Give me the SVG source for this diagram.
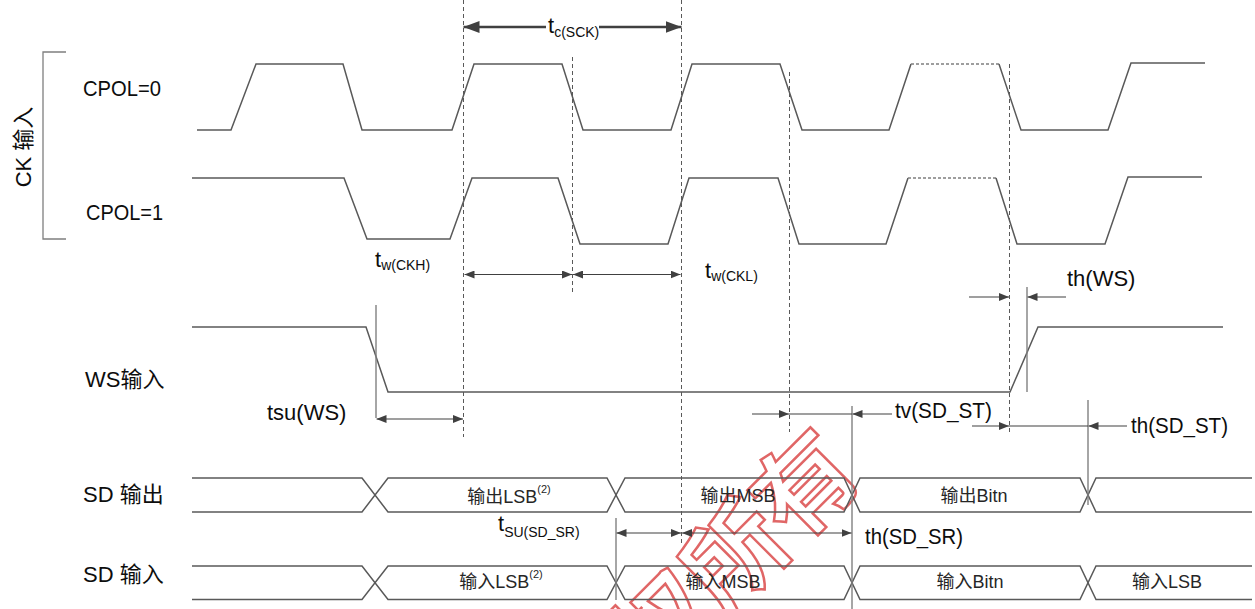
<svg xmlns="http://www.w3.org/2000/svg" width="1255" height="609" viewBox="0 0 1255 609">
<style>
  .wave{fill:none;stroke:#595959;stroke-width:1.5;stroke-linejoin:miter}
  .dot{fill:none;stroke:#7f7f7f;stroke-width:1.3;stroke-dasharray:3 2}
  .dash{fill:none;stroke:#595959;stroke-width:1;stroke-dasharray:4 3}
  .solid{fill:none;stroke:#808080;stroke-width:1.4}
  .arr{fill:none;stroke:#404040;stroke-width:1.2}
  .big{fill:none;stroke:#404040;stroke-width:2.5}
  text{font-family:"Liberation Sans","Noto Sans CJK SC",sans-serif;fill:#0d0d0d}
  .lbl{font-size:22px}
  .box{font-size:18px;fill:#262626;text-anchor:middle}
  .sub{font-size:14px}
  .sup{font-size:11px}
  .wm{font-family:"Noto Sans CJK SC",sans-serif;font-size:100px;font-weight:bold;fill:none;stroke:#e06666;stroke-width:2.5}
</style>
<defs>
  <marker id="ah" viewBox="0 0 10 8" refX="10" refY="4" markerWidth="10" markerHeight="8" markerUnits="userSpaceOnUse" orient="auto-start-reverse">
    <path d="M0,0 L10,4 L0,8 z" fill="#404040"/>
  </marker>
  <marker id="bh" viewBox="0 0 16 12" refX="16" refY="6" markerWidth="16" markerHeight="12" markerUnits="userSpaceOnUse" orient="auto-start-reverse">
    <path d="M0,0 L16,6 L0,12 z" fill="#404040"/>
  </marker>
</defs>

<g id="watermark" transform="translate(805,485) rotate(-45)">
  <text class="wm" x="50" y="36" text-anchor="end">权所有</text>
</g>

<g id="ck-label">
  <path class="solid" d="M66,52 H43 V239 H66" style="stroke:#7f7f7f;stroke-width:1.3"/>
  <text class="lbl" transform="translate(31,147) rotate(-90)" text-anchor="middle">CK 输入</text>
  <text class="lbl" x="83" y="96" textLength="78" lengthAdjust="spacingAndGlyphs">CPOL=0</text>
  <text class="lbl" x="86" y="220" textLength="77" lengthAdjust="spacingAndGlyphs">CPOL=1</text>
</g>

<g id="cpol0">
  <path class="wave" d="M197,130 H231 L256,64 H343 L362,130 H452 L474,64 H562 L583,130 H671 L692,64 H780 L802,130 H889 L911,64"/>
  <path class="dot" d="M911,64 H999"/>
  <path class="wave" d="M999,64 L1021,130 H1108 L1131,63 H1205"/>
</g>

<g id="cpol1">
  <path class="wave" d="M192,178 H344 L367,239 H450 L472,178 H558 L580,244 H668 L689,178 H778 L799,244 H886 L908,178"/>
  <path class="dot" d="M908,178 H996"/>
  <path class="wave" d="M996,178 L1017,244 H1105 L1128,177 H1202"/>
</g>

<g id="ws">
  <text class="lbl" x="85" y="387">WS输入</text>
  <path class="wave" d="M192,327 H366 L388,392 H1010 L1038,327 H1223"/>
</g>

<g id="sd-out">
  <text class="lbl" x="83" y="502">SD 输出</text>
  <path class="wave" d="M192,478 H362 L388,512 H607 L625,478 H844 L860,512 H1080 L1096,478 H1252"/>
  <path class="wave" d="M192,512 H362 L388,478 H607 L625,512 H844 L860,478 H1080 L1096,512 H1252"/>
  <text class="box" x="509" y="503">输出LSB<tspan class="sup" dy="-10">(2)</tspan></text>
  <text class="box" x="738" y="502">输出MSB</text>
  <text class="box" x="974" y="502">输出Bitn</text>
</g>

<g id="sd-in">
  <text class="lbl" x="83" y="582">SD 输入</text>
  <path class="wave" d="M192,566 H362 L388,599.5 H607 L625,566 H844 L860,599.5 H1080 L1096,566 H1252"/>
  <path class="wave" d="M192,599.5 H362 L388,566 H607 L625,599.5 H844 L860,566 H1080 L1096,599.5 H1252"/>
  <text class="box" x="501" y="588">输入LSB<tspan class="sup" dy="-10">(2)</tspan></text>
  <text class="box" x="723" y="588">输入MSB</text>
  <text class="box" x="970" y="588">输入Bitn</text>
  <text class="box" x="1167" y="588">输入LSB</text>
</g>

<g id="connectors">
  <path class="dash" d="M463.5,0 V437"/>
  <path class="dash" d="M572.5,57 V292"/>
  <path class="dash" d="M681.5,0 V545"/>
  <path class="dash" d="M789.5,72 V432"/>
  <path class="dash" d="M1009.5,64 V434"/>
  <path class="solid" d="M376,305 V418"/>
  <path class="solid" d="M1027,287 V392"/>
  <path class="solid" d="M852,406 V609"/>
  <path class="solid" d="M1088,400 V505"/>
  <path class="solid" d="M616,518 V600"/>
  <path class="big" d="M463.5,27 H546" marker-start="url(#bh)"/>
  <path class="big" d="M599,27 H681.5" marker-end="url(#bh)"/>
  <path class="arr" d="M464.5,274.5 H572" marker-start="url(#ah)" marker-end="url(#ah)"/>
  <path class="arr" d="M573,274.5 H680.5" marker-start="url(#ah)" marker-end="url(#ah)"/>
  <path class="arr" d="M376.5,419 H463" marker-start="url(#ah)" marker-end="url(#ah)"/>
  <path class="arr" d="M969,297 H1009" marker-end="url(#ah)"/>
  <path class="arr" d="M1066,297 H1027.5" marker-end="url(#ah)"/>
  <path class="arr" d="M752,414 H789" marker-end="url(#ah)"/>
  <path class="arr" d="M789,414 H852"/>
  <path class="arr" d="M892,414 H852.5" marker-end="url(#ah)"/>
  <path class="arr" d="M972,426 H1009" marker-end="url(#ah)"/>
  <path class="arr" d="M1009,426 H1088"/>
  <path class="arr" d="M1127,426 H1088.5" marker-end="url(#ah)"/>
  <path class="arr" d="M616.5,533 H681" marker-start="url(#ah)" marker-end="url(#ah)"/>
  <path class="arr" d="M682,533 H851.5" marker-start="url(#ah)" marker-end="url(#ah)"/>
</g>

<g id="timing-labels">
  <text class="lbl" x="548" y="33">t<tspan class="sub" font-size="13" dy="4">c(SCK)</tspan></text>
  <text class="lbl" x="375" y="267">t<tspan class="sub" dy="3">w(CKH)</tspan></text>
  <text class="lbl" x="705" y="278">t<tspan class="sub" dy="3">w(CKL)</tspan></text>
  <text class="lbl" x="267" y="420">tsu(WS)</text>
  <text class="lbl" x="1067" y="286">th(WS)</text>
  <text class="lbl" x="895" y="418" textLength="97" lengthAdjust="spacingAndGlyphs">tv(SD_ST)</text>
  <text class="lbl" x="1131" y="433" textLength="97" lengthAdjust="spacingAndGlyphs">th(SD_ST)</text>
  <text class="lbl" x="498" y="531">t<tspan class="sub" font-size="13" dy="6">SU(SD_SR)</tspan></text>
  <text class="lbl" x="865" y="544" textLength="98" lengthAdjust="spacingAndGlyphs">th(SD_SR)</text>
</g>
</svg>
